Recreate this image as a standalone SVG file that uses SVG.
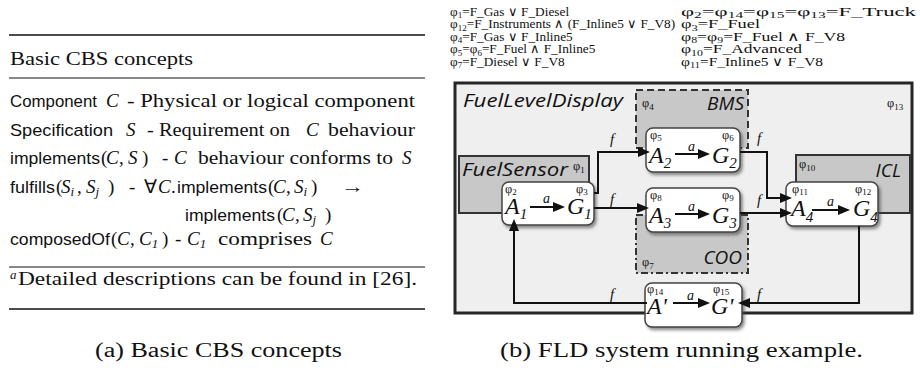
<svg xmlns="http://www.w3.org/2000/svg" width="920" height="377" viewBox="0 0 920 377">
<style>
.rm{font-family:"Liberation Serif","Times New Roman",Times,serif;font-size:19px;fill:#111}
.mi{font-family:"Liberation Serif","Times New Roman",Times,serif;font-style:italic;font-size:19px;fill:#111}
.ss{font-family:"Liberation Sans",Arial,sans-serif;font-size:17px;fill:#111}
.fm{font-family:"Liberation Serif","Times New Roman",serif;font-size:13.3px;fill:#111}
.nm{font-family:"Open Sans","Liberation Sans",sans-serif;font-style:italic;font-size:18px;fill:#111}
.ph{font-family:"Liberation Serif","Times New Roman",serif;font-size:12.5px;fill:#111}
.big{font-family:"Liberation Serif","Times New Roman",serif;font-style:italic;font-size:24px;fill:#111}
.bs{font-size:15px}
.lb{font-family:"Liberation Serif","Times New Roman",serif;font-style:italic;font-size:15px;fill:#111}
.s{font-size:9px}
.rule{stroke:#111}
.cont{fill:#c8c8c8;stroke:#333;stroke-width:2}
.node{fill:#fff;stroke:#444;stroke-width:1.5}
.conn{fill:none;stroke:#111;stroke-width:2}
</style>
<defs>
<marker id="ah" markerUnits="userSpaceOnUse" viewBox="0 0 12 10" refX="2" refY="5" markerWidth="12" markerHeight="10" orient="auto">
<path d="M0,0 L12,5 L0,10 z" fill="#111"/>
</marker>
<filter id="sh" x="-10%" y="-10%" width="130%" height="140%">
<feDropShadow dx="2" dy="2.5" stdDeviation="1.5" flood-color="#444" flood-opacity="0.6"/>
</filter>
</defs>

<!-- (a) table -->
<g id="table">
<line class="rule" x1="9" y1="35" x2="425" y2="35" stroke-width="1.6"/>
<text class="rm" x="10" y="65" textLength="183" lengthAdjust="spacingAndGlyphs">Basic CBS concepts</text>
<line class="rule" x1="9" y1="78" x2="425" y2="78" stroke-width="1"/>

<text class="ss" x="10" y="107" textLength="87" lengthAdjust="spacingAndGlyphs">Component</text>
<text class="mi" x="106" y="107">C</text>
<text class="rm" x="127" y="107" textLength="288" lengthAdjust="spacingAndGlyphs">- Physical or logical component</text>

<text class="ss" x="10" y="136" textLength="103" lengthAdjust="spacingAndGlyphs">Specification</text>
<text class="mi" x="126" y="136">S</text>
<text class="rm" x="147" y="136" textLength="143" lengthAdjust="spacingAndGlyphs">- Requirement on</text>
<text class="mi" x="306" y="136">C</text>
<text class="rm" x="328" y="136" textLength="87" lengthAdjust="spacingAndGlyphs">behaviour</text>

<text class="ss" x="10" y="164" textLength="90" lengthAdjust="spacingAndGlyphs">implements</text>
<text class="rm" x="101" y="164">(</text>
<text class="mi" x="106" y="164">C</text>
<text class="rm" x="119" y="164">,</text>
<text class="mi" x="128" y="164">S</text>
<text class="rm" x="142" y="164">)</text>
<text class="rm" x="162" y="164">-</text>
<text class="mi" x="174" y="164">C</text>
<text class="rm" x="198" y="164" textLength="195" lengthAdjust="spacingAndGlyphs">behaviour conforms to</text>
<text class="mi" x="402" y="164">S</text>

<text class="ss" x="10" y="193" textLength="45" lengthAdjust="spacingAndGlyphs">fulfills</text>
<text class="rm" x="56" y="193">(</text>
<text class="mi" x="61" y="193">S<tspan style="font-size:13px" dy="3">i</tspan></text>
<text class="rm" x="77" y="193">,</text>
<text class="mi" x="86" y="193">S<tspan style="font-size:13px" dy="3">j</tspan></text>
<text class="rm" x="108" y="193">)</text>
<text class="rm" x="129" y="193">-</text>
<text class="rm" x="144" y="193">∀</text>
<text class="mi" x="158" y="193">C</text>
<text class="rm" x="171" y="193">.</text>
<text class="ss" x="177" y="193" textLength="90" lengthAdjust="spacingAndGlyphs">implements</text>
<text class="rm" x="268" y="193">(</text>
<text class="mi" x="273" y="193">C</text>
<text class="rm" x="286" y="193">,</text>
<text class="mi" x="294" y="193">S<tspan style="font-size:13px" dy="3">i</tspan></text>
<text class="rm" x="311" y="193">)</text>
<text class="rm" x="341" y="193" textLength="23" lengthAdjust="spacingAndGlyphs">→</text>

<text class="ss" x="185" y="221" textLength="90" lengthAdjust="spacingAndGlyphs">implements</text>
<text class="rm" x="277" y="221">(</text>
<text class="mi" x="282" y="221">C</text>
<text class="rm" x="295" y="221">,</text>
<text class="mi" x="303" y="221">S<tspan style="font-size:13px" dy="3">j</tspan></text>
<text class="rm" x="325" y="221">)</text>

<text class="ss" x="10" y="245" textLength="100" lengthAdjust="spacingAndGlyphs">composedOf</text>
<text class="rm" x="111" y="245">(</text>
<text class="mi" x="117" y="245">C</text>
<text class="rm" x="130" y="245">,</text>
<text class="mi" x="139" y="245">C<tspan class="rm" style="font-size:13px" dy="3">1</tspan></text>
<text class="rm" x="162" y="245">)</text>
<text class="rm" x="175" y="245">-</text>
<text class="mi" x="187" y="245">C<tspan class="rm" style="font-size:13px" dy="3">1</tspan></text>
<text class="rm" x="218" y="245" textLength="94" lengthAdjust="spacingAndGlyphs">comprises</text>
<text class="mi" x="320" y="245">C</text>

<line class="rule" x1="9" y1="267" x2="425" y2="267" stroke-width="1"/>
<text class="mi" x="10" y="279" style="font-size:13px">a</text>
<text class="rm" x="18" y="285" textLength="399" lengthAdjust="spacingAndGlyphs">Detailed descriptions can be found in [26].</text>
<line class="rule" x1="9" y1="309" x2="425" y2="309" stroke-width="1.6"/>
<text class="rm" x="95" y="357" style="font-size:20px" textLength="247" lengthAdjust="spacingAndGlyphs">(a) Basic CBS concepts</text>
</g>

<!-- formulas -->
<g id="formulas">
<text class="fm" x="450" y="15.5">φ<tspan class="s" dy="2.5">1</tspan><tspan dy="-2.5">=F_Gas ∨ F_Diesel</tspan></text>
<text class="fm" x="450" y="28">φ<tspan class="s" dy="2.5">12</tspan><tspan dy="-2.5">=F_Instruments ∧ (F_Inline5 ∨ F_V8)</tspan></text>
<text class="fm" x="450" y="40.5">φ<tspan class="s" dy="2.5">4</tspan><tspan dy="-2.5">=F_Gas ∨ F_Inline5</tspan></text>
<text class="fm" x="450" y="53">φ<tspan class="s" dy="2.5">5</tspan><tspan dy="-2.5">=φ</tspan><tspan class="s" dy="2.5">6</tspan><tspan dy="-2.5">=F_Fuel ∧ F_Inline5</tspan></text>
<text class="fm" x="450" y="65.5">φ<tspan class="s" dy="2.5">7</tspan><tspan dy="-2.5">=F_Diesel ∨ F_V8</tspan></text>
<text class="fm" x="681" y="15.5" textLength="235" lengthAdjust="spacingAndGlyphs">φ<tspan class="s" dy="2.5">2</tspan><tspan dy="-2.5">=φ</tspan><tspan class="s" dy="2.5">14</tspan><tspan dy="-2.5">=φ</tspan><tspan class="s" dy="2.5">15</tspan><tspan dy="-2.5">=φ</tspan><tspan class="s" dy="2.5">13</tspan><tspan dy="-2.5">=F_Truck</tspan></text>
<text class="fm" x="681" y="28" textLength="79" lengthAdjust="spacingAndGlyphs">φ<tspan class="s" dy="2.5">3</tspan><tspan dy="-2.5">=F_Fuel</tspan></text>
<text class="fm" x="681" y="40.5" textLength="164" lengthAdjust="spacingAndGlyphs">φ<tspan class="s" dy="2.5">8</tspan><tspan dy="-2.5">=φ</tspan><tspan class="s" dy="2.5">9</tspan><tspan dy="-2.5">=F_Fuel ∧ F_V8</tspan></text>
<text class="fm" x="681" y="53" textLength="121" lengthAdjust="spacingAndGlyphs">φ<tspan class="s" dy="2.5">10</tspan><tspan dy="-2.5">=F_Advanced</tspan></text>
<text class="fm" x="681" y="65.5" textLength="142" lengthAdjust="spacingAndGlyphs">φ<tspan class="s" dy="2.5">11</tspan><tspan dy="-2.5">=F_Inline5 ∨ F_V8</tspan></text>
</g>

<!-- containers -->
<g id="FuelLevelDisplay">
<rect x="455" y="83" width="457" height="230" fill="#efefef" stroke="#262626" stroke-width="3"/>
<text class="nm" x="463" y="107" textLength="160" lengthAdjust="spacingAndGlyphs">FuelLevelDisplay</text>
<text class="ph" x="887" y="107">φ<tspan class="s" dy="2.5">13</tspan></text>
</g>
<g id="BMS">
<rect class="cont" x="636" y="90" width="112" height="58" stroke-dasharray="7,4"/>
<text class="nm" x="744" y="110" text-anchor="end" style="font-size:19px">BMS</text>
<text class="ph" x="642" y="107">φ<tspan class="s" dy="2.5">4</tspan></text>
</g>
<g id="COO">
<rect class="cont" x="636" y="215" width="112" height="58" stroke-dasharray="7,3,2,3"/>
<text class="nm" x="742" y="264" text-anchor="end" style="font-size:19px">COO</text>
<text class="ph" x="642" y="266">φ<tspan class="s" dy="2.5">7</tspan></text>
</g>
<g id="FuelSensor">
<rect class="cont" x="459" y="156" width="130" height="57"/>
<text class="nm" x="462" y="176" textLength="106" lengthAdjust="spacingAndGlyphs">FuelSensor</text>
<text class="ph" x="573" y="170">φ<tspan class="s" dy="2.5">1</tspan></text>
</g>
<g id="ICL">
<rect class="cont" x="796" y="155" width="114" height="58"/>
<text class="nm" x="901" y="177" text-anchor="end" style="font-size:19px">ICL</text>
<text class="ph" x="799" y="168">φ<tspan class="s" dy="2.5">10</tspan></text>
</g>

<!-- nodes -->
<g id="A1G1">
<rect class="node" x="502" y="182" width="92" height="43" rx="7" filter="url(#sh)"/>
<text class="ph" x="505" y="192.5">φ<tspan class="s" dy="2.5">2</tspan></text>
<text class="ph" x="576" y="192.5">φ<tspan class="s" dy="2.5">3</tspan></text>
<text class="big" x="505" y="214">A<tspan class="bs" dy="5">1</tspan></text>
<text class="big" x="567" y="214">G<tspan class="bs" dy="5">1</tspan></text>
<path class="conn" d="M530,207 H555" marker-end="url(#ah)"/>
<text class="lb" x="543" y="203" style="font-size:14px">a</text>
</g>
<g id="A2G2">
<rect class="node" x="646" y="128" width="94" height="44" rx="7" filter="url(#sh)"/>
<text class="ph" x="650" y="138.5">φ<tspan class="s" dy="2.5">5</tspan></text>
<text class="ph" x="722" y="138.5">φ<tspan class="s" dy="2.5">6</tspan></text>
<text class="big" x="649" y="163">A<tspan class="bs" dy="5">2</tspan></text>
<text class="big" x="712" y="163">G<tspan class="bs" dy="5">2</tspan></text>
<path class="conn" d="M675,154 H700" marker-end="url(#ah)"/>
<text class="lb" x="688" y="151" style="font-size:14px">a</text>
</g>
<g id="A3G3">
<rect class="node" x="646" y="188" width="94" height="44" rx="7" filter="url(#sh)"/>
<text class="ph" x="650" y="198.5">φ<tspan class="s" dy="2.5">8</tspan></text>
<text class="ph" x="722" y="198.5">φ<tspan class="s" dy="2.5">9</tspan></text>
<text class="big" x="649" y="223">A<tspan class="bs" dy="5">3</tspan></text>
<text class="big" x="712" y="223">G<tspan class="bs" dy="5">3</tspan></text>
<path class="conn" d="M675,214 H700" marker-end="url(#ah)"/>
<text class="lb" x="688" y="211" style="font-size:14px">a</text>
</g>
<g id="A4G4">
<rect class="node" x="786" y="182" width="92" height="44" rx="7" filter="url(#sh)"/>
<text class="ph" x="792" y="192.5">φ<tspan class="s" dy="2.5">11</tspan></text>
<text class="ph" x="855" y="192.5">φ<tspan class="s" dy="2.5">12</tspan></text>
<text class="big" x="791" y="216">A<tspan class="bs" dy="6">4</tspan></text>
<text class="big" x="853" y="216">G<tspan class="bs" dy="6">4</tspan></text>
<path class="conn" d="M812,210 H840" marker-end="url(#ah)"/>
<text class="lb" x="827" y="206" style="font-size:14px">a</text>
</g>
<g id="ApGp">
<rect class="node" x="645" y="283" width="97" height="44" rx="7" filter="url(#sh)"/>
<text class="ph" x="647" y="292.5">φ<tspan class="s" dy="2.5">14</tspan></text>
<text class="ph" x="713" y="292.5">φ<tspan class="s" dy="2.5">15</tspan></text>
<text class="big" x="647" y="314">A'</text>
<text class="big" x="711" y="314">G'</text>
<path class="conn" d="M673,303 H700" marker-end="url(#ah)"/>
<text class="lb" x="687" y="300" style="font-size:14px">a</text>
</g>

<!-- connectors -->
<g id="connectors">
<path class="conn" d="M594,193 H598 V152 H640" marker-end="url(#ah)"/>
<path class="conn" d="M594,208 H639" marker-end="url(#ah)"/>
<path class="conn" d="M740,152 H767 V198 H782" marker-end="url(#ah)"/>
<path class="conn" d="M740,213 H782" marker-end="url(#ah)"/>
<path class="conn" d="M859,226 V303 H748" marker-end="url(#ah)"/>
<path class="conn" d="M647,303 H514 V229" marker-end="url(#ah)"/>
<text class="lb" x="610" y="144">f</text>
<text class="lb" x="610" y="204">f</text>
<text class="lb" x="757" y="143">f</text>
<text class="lb" x="757" y="205">f</text>
<text class="lb" x="610" y="299">f</text>
<text class="lb" x="757" y="299">f</text>
</g>

<text class="rm" x="500" y="357" style="font-size:20px" textLength="363" lengthAdjust="spacingAndGlyphs">(b) FLD system running example.</text>
</svg>
